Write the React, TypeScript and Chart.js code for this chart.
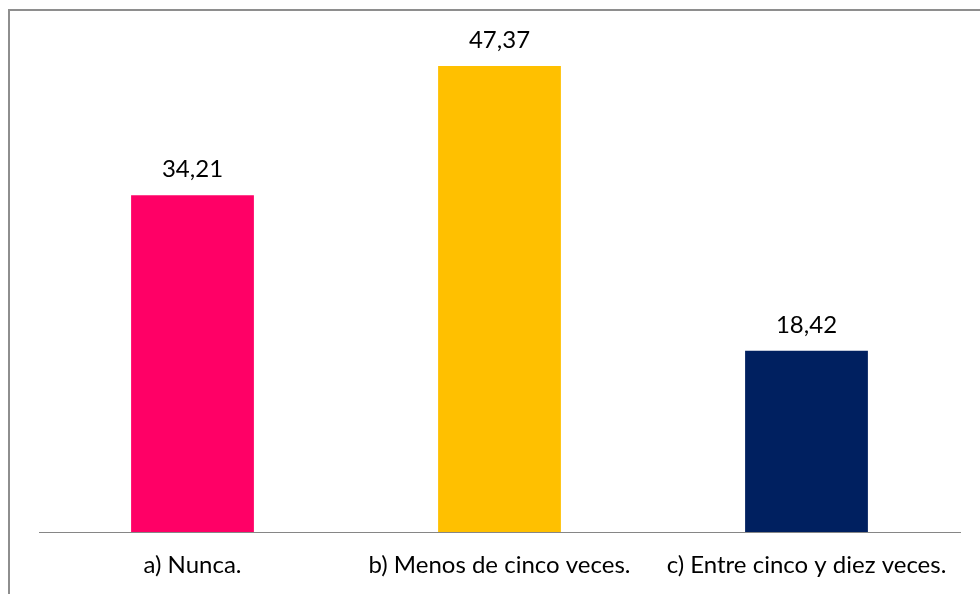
import React, { useEffect, useRef } from "react";
import { Chart, registerables } from "chart.js";

Chart.register(...registerables);

const categories = ["a) Nunca.", "b) Menos de cinco veces.", "c) Entre cinco y diez veces."];
const values = [34.21, 47.37, 18.42];
const valueLabels = ["34,21", "47,37", "18,42"];
const barColors = ["#FF0066", "#FFC000", "#002060"];

const FONT = "Lato, 'Open Sans', sans-serif";

const dataLabelPlugin = {
  id: "dataLabels",
  afterDatasetsDraw(chart: any) {
    const ctx = chart.ctx;
    const meta = chart.getDatasetMeta(0);
    ctx.save();
    ctx.font = `24px ${FONT}`;
    ctx.fillStyle = "#000000";
    ctx.textAlign = "center";
    ctx.textBaseline = "alphabetic";
    meta.data.forEach((bar: any, i: number) => {
      ctx.fillText(valueLabels[i], bar.x, bar.y - 18);
    });
    ctx.restore();
  },
};

export default function App() {
  const ref = useRef<HTMLCanvasElement>(null);
  useEffect(() => {
    if (!ref.current) return;
    const chart = new Chart(ref.current, {
      type: "bar",
      data: {
        labels: categories,
        datasets: [
          {
            data: values,
            backgroundColor: barColors,
            barPercentage: 0.4,
            categoryPercentage: 1,
          },
        ],
      },
      options: {
        animation: false,
        responsive: false,
        layout: { padding: { left: 39, right: 20, top: 40, bottom: 0 } },
        plugins: { legend: { display: false }, tooltip: { enabled: false } },
        scales: {
          x: {
            grid: { display: false, drawTicks: false },
            border: { display: true, color: "#868686", width: 1 },
            ticks: { color: "#000000", font: { family: FONT, size: 24 }, padding: 19, maxRotation: 0, autoSkip: false },
            afterFit: (s: any) => {
              s.height = 62;
            },
          },
          y: {
            display: false,
            min: 0,
            max: 50,
          },
        },
      },
      plugins: [dataLabelPlugin],
    });
    return () => chart.destroy();
  }, []);
  return (
    <div style={{ position: "fixed", left: 0, top: 0, width: 980, height: 594, background: "#ffffff" }}>
      <div
        style={{
          position: "absolute",
          left: 8,
          top: 9,
          width: 980,
          height: 600,
          borderLeft: "2px solid #8e8e8e",
          borderTop: "2px solid #8e8e8e",
          boxSizing: "border-box",
        }}
      />
      <canvas ref={ref} width={980} height={594} style={{ position: "absolute", left: 0, top: 0 }} />
    </div>
  );
}
